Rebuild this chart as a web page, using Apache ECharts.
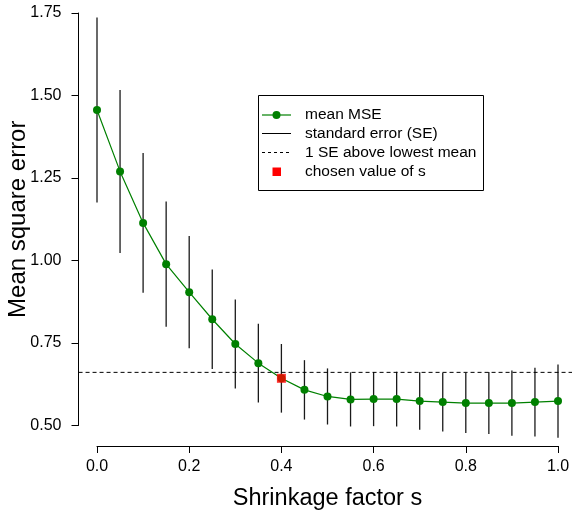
<!DOCTYPE html>
<html>
<head>
<meta charset="utf-8">
<script src="https://cdn.jsdelivr.net/npm/echarts@6/dist/echarts.min.js"></script>
<style>
html,body{margin:0;padding:0;background:#fff;}
#chart{width:572px;height:512px;}
</style>
</head>
<body>
<div id="chart"></div>
<script>
var shrinkage = [0, 0.05, 0.1, 0.15, 0.2, 0.25, 0.3, 0.35, 0.4, 0.45, 0.5, 0.55, 0.6, 0.65, 0.7, 0.75, 0.8, 0.85, 0.9, 0.95, 1.0];
var meanMSE = [1.456, 1.270, 1.114, 0.989, 0.904, 0.822, 0.747, 0.689, 0.643, 0.608, 0.588, 0.579, 0.580, 0.580, 0.574, 0.571, 0.568, 0.568, 0.568, 0.571, 0.574];
var stdErr = [0.280, 0.247, 0.212, 0.190, 0.170, 0.151, 0.135, 0.119, 0.104, 0.090, 0.085, 0.082, 0.082, 0.083, 0.087, 0.089, 0.091, 0.094, 0.099, 0.104, 0.111];
var oneSEThreshold = 0.661;
var chosenS = 0.4;
var chosenMSE = 0.643;
var xTicks = [0, 0.2, 0.4, 0.6, 0.8, 1.0];
var yTicks = [0.50, 0.75, 1.00, 1.25, 1.50, 1.75];
var legendLabels = ['mean MSE', 'standard error (SE)', '1 SE above lowest mean', 'chosen value of s'];

var FONT = '"Liberation Sans", Arial, Helvetica, sans-serif';

var meanData = shrinkage.map(function (s, i) { return [s, meanMSE[i]]; });
var barData = shrinkage.map(function (s, i) { return [s, meanMSE[i] - stdErr[i], meanMSE[i] + stdErr[i]]; });

var chart = echarts.init(document.getElementById('chart'));

var legX = 258.5, legY = 95.5, legW = 225, legH = 95;
var rowY = [115, 133.5, 152.5, 171.5];

chart.setOption({
  animation: false,
  backgroundColor: '#fff',
  grid: { left: 97, right: 14, top: 13, bottom: 86.5, containLabel: false, outerBoundsMode: 'none' },
  xAxis: {
    type: 'value', min: xTicks[0], max: xTicks[xTicks.length - 1], interval: 0.2,
    offset: 20.5,
    name: 'Shrinkage factor s', nameLocation: 'middle', nameGap: 41, nameMoveOverlap: false,
    nameTextStyle: { fontFamily: FONT, fontSize: 23.5, color: '#000' },
    axisLine: { show: true, onZero: false, lineStyle: { color: '#000', width: 1 } },
    axisTick: { show: true, length: 7, lineStyle: { color: '#000', width: 1 } },
    axisLabel: { fontFamily: FONT, fontSize: 16, color: '#000', margin: 13,
      formatter: function (v) { return v.toFixed(1); } },
    splitLine: { show: false }
  },
  yAxis: {
    type: 'value', min: yTicks[0], max: yTicks[yTicks.length - 1], interval: 0.25,
    offset: 18.5,
    name: 'Mean square error', nameLocation: 'middle', nameGap: 48, nameRotate: 90, nameMoveOverlap: false,
    nameTextStyle: { fontFamily: FONT, fontSize: 24, color: '#000' },
    axisLine: { show: true, onZero: false, lineStyle: { color: '#000', width: 1 } },
    axisTick: { show: true, length: 7, lineStyle: { color: '#000', width: 1 } },
    axisLabel: { fontFamily: FONT, fontSize: 16, color: '#000', margin: 17,
      formatter: function (v) { return v.toFixed(2); } },
    splitLine: { show: false }
  },
  series: [
    {
      type: 'custom', name: 'standard error (SE)', clip: false, z: 1,
      data: barData,
      encode: { x: 0, y: [1, 2] },
      renderItem: function (params, api) {
        var p1 = api.coord([api.value(0), api.value(1)]);
        var p2 = api.coord([api.value(0), api.value(2)]);
        return { type: 'line', shape: { x1: p1[0], y1: p1[1], x2: p2[0], y2: p2[1] },
          style: { stroke: '#1a1a1a', lineWidth: 1.3 } };
      }
    },
    {
      type: 'custom', name: '1 SE above lowest mean', clip: false, z: 1,
      data: [[oneSEThreshold]],
      renderItem: function (params, api) {
        var v = api.value(0);
        var p1 = api.coord([-0.04, v]);
        var p2 = api.coord([1.04, v]);
        return { type: 'line', shape: { x1: p1[0], y1: p1[1], x2: p2[0], y2: p2[1] },
          style: { stroke: '#000', lineWidth: 1, lineDash: [4, 3] } };
      }
    },
    {
      type: 'line', name: 'mean MSE', data: meanData, z: 3,
      symbol: 'circle', symbolSize: 8, showSymbol: true,
      lineStyle: { color: '#008000', width: 1.2 },
      itemStyle: { color: '#008000' }
    },
    {
      type: 'scatter', name: 'chosen value of s', data: [[chosenS, chosenMSE]], z: 4,
      symbol: 'rect', symbolSize: 9, itemStyle: { color: '#ff0000' }
    }
  ],
  graphic: [
    { type: 'rect', shape: { x: legX, y: legY, width: legW, height: legH },
      style: { fill: '#fff', stroke: '#000', lineWidth: 1 }, z: 10 },
    { type: 'line', shape: { x1: 262, y1: rowY[0], x2: 291, y2: rowY[0] },
      style: { stroke: '#008000', lineWidth: 1.2 }, z: 11 },
    { type: 'circle', shape: { cx: 276.5, cy: rowY[0], r: 4 }, style: { fill: '#008000' }, z: 11 },
    { type: 'line', shape: { x1: 262, y1: rowY[1], x2: 291, y2: rowY[1] },
      style: { stroke: '#000', lineWidth: 1 }, z: 11 },
    { type: 'line', shape: { x1: 262, y1: rowY[2], x2: 291, y2: rowY[2] },
      style: { stroke: '#000', lineWidth: 1, lineDash: [3, 3] }, z: 11 },
    { type: 'rect', shape: { x: 272.5, y: rowY[3] - 4, width: 8.5, height: 8.5 },
      style: { fill: '#ff0000' }, z: 11 },
    { type: 'text', x: 305, y: rowY[0], style: { text: legendLabels[0], font: '15.5px ' + FONT, fill: '#000', textVerticalAlign: 'middle' }, z: 11 },
    { type: 'text', x: 305, y: rowY[1], style: { text: legendLabels[1], font: '15.5px ' + FONT, fill: '#000', textVerticalAlign: 'middle' }, z: 11 },
    { type: 'text', x: 305, y: rowY[2], style: { text: legendLabels[2], font: '15.5px ' + FONT, fill: '#000', textVerticalAlign: 'middle' }, z: 11 },
    { type: 'text', x: 305, y: rowY[3], style: { text: legendLabels[3], font: '15.5px ' + FONT, fill: '#000', textVerticalAlign: 'middle' }, z: 11 }
  ]
});
</script>
</body>
</html>
